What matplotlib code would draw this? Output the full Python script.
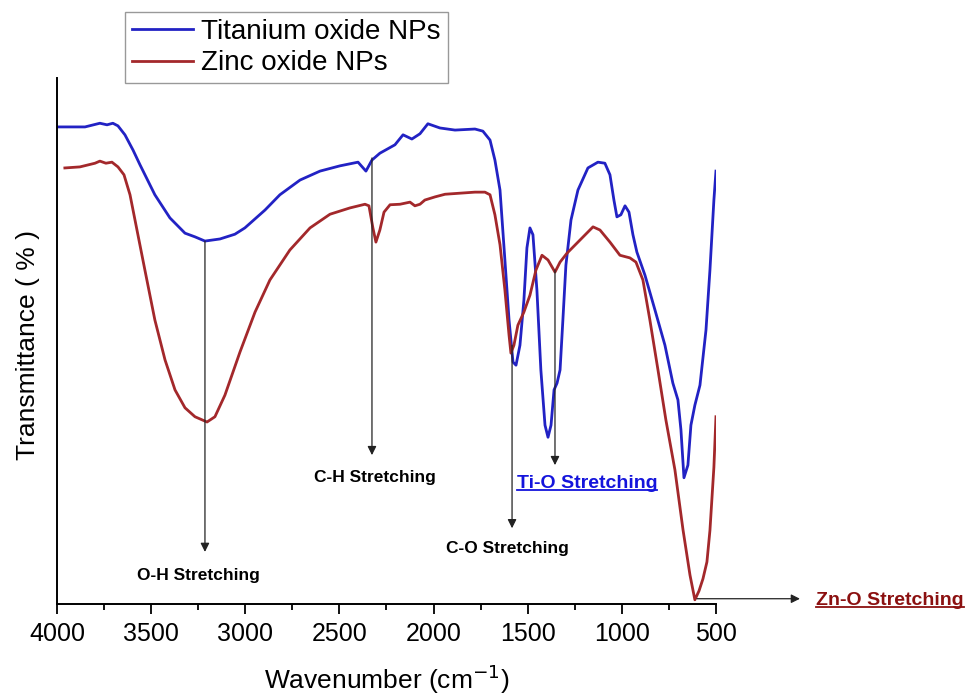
import matplotlib
matplotlib.use("Agg")
import matplotlib.pyplot as plt
from matplotlib.lines import Line2D

plt.rcParams['font.family'] = ['Liberation Sans', 'DejaVu Sans']

# Titanium oxide NPs (wavenumber, transmittance %)
ti_wn = [4000, 3851, 3772, 3734, 3703, 3676, 3639, 3596, 3559, 3480, 3400, 3320, 3267, 3214,
         3134, 3055, 3002, 2895, 2816, 2709, 2603, 2497, 2401, 2359, 2327, 2285, 2205, 2162,
         2115, 2072, 2030, 1966, 1886, 1780, 1738, 1700, 1674, 1647, 1621, 1599, 1578, 1562,
         1541, 1520, 1504, 1488, 1472, 1451, 1430, 1408, 1392, 1376, 1360, 1344, 1328, 1313,
         1297, 1270, 1233, 1180, 1127, 1090, 1063, 1042, 1026, 1005, 983, 962, 941, 920, 877,
         824, 771, 729, 702, 686, 670, 649, 633, 612, 585, 553, 532, 511, 500]
ti_t = [90.7, 90.7, 91.4, 91.1, 91.4, 90.9, 89.2, 86.3, 83.5, 77.8, 73.4, 70.5, 69.8, 69.0,
        69.4, 70.3, 71.5, 74.9, 77.8, 80.6, 82.3, 83.3, 84.0, 82.3, 84.4, 85.7, 87.3, 89.2,
        88.4, 89.4, 91.3, 90.5, 90.1, 90.3, 89.9, 88.2, 84.4, 78.7, 65.4, 54.0, 46.0, 45.4,
        49.2, 57.8, 67.7, 71.5, 70.2, 59.7, 44.5, 34.0, 31.7, 34.0, 40.7, 42.0, 44.5, 54.0,
        64.4, 73.0, 78.7, 82.9, 84.0, 83.8, 81.6, 76.8, 73.6, 74.0, 75.7, 74.5, 70.2, 66.9, 62.5,
        55.9, 49.2, 42.0, 38.8, 33.1, 24.0, 26.4, 34.0, 37.8, 41.6, 52.1, 63.5, 76.8, 82.3]

# Zinc oxide NPs
zn_wn = [3958, 3878, 3798, 3772, 3740, 3708, 3676, 3644, 3612, 3575, 3533, 3480, 3426, 3373,
         3320, 3267, 3203, 3161, 3108, 3028, 2948, 2869, 2763, 2656, 2550, 2444, 2364, 2343,
         2322, 2306, 2285, 2263, 2231, 2178, 2125, 2099, 2072, 2046, 1992, 1939, 1860, 1780,
         1727, 1700, 1674, 1647, 1621, 1599, 1589, 1573, 1552, 1520, 1488, 1456, 1424, 1392,
         1355, 1328, 1291, 1222, 1153, 1116, 1063, 1010, 957, 925, 888, 851, 808, 766, 718,
         675, 638, 612, 590, 569, 548, 532, 511, 500]
zn_t = [82.9, 83.1, 83.8, 84.2, 83.8, 84.0, 83.1, 81.6, 77.8, 71.1, 63.5, 54.0, 46.4, 40.7,
        37.3, 35.6, 34.6, 35.6, 39.7, 47.9, 55.5, 61.6, 67.3, 71.5, 74.1, 75.3, 76.0, 75.7,
        71.5, 68.8, 71.1, 74.5, 75.9, 76.0, 76.4, 75.7, 76.0, 76.8, 77.4, 77.9, 78.1, 78.3,
        78.3, 77.8, 74.0, 68.3, 59.7, 51.1, 47.7, 49.2, 53.0, 55.5, 58.7, 63.5, 66.3, 65.4,
        63.1, 65.0, 66.7, 69.2, 71.7, 71.1, 68.8, 66.3, 65.8, 65.0, 61.6, 54.0, 44.5, 35.0, 25.5,
        14.1, 5.5, 0.8, 2.5, 4.8, 8.0, 14.0, 26.0, 35.6]

x_ticks = [4000, 3500, 3000, 2500, 2000, 1500, 1000, 500]

fig = plt.figure(figsize=(9.67, 6.94), dpi=100)
ax = fig.add_axes([0.0589, 0.1297, 0.6815, 0.7579])

ti_line, = ax.plot(ti_wn, ti_t, color='#2222c4', lw=2, solid_joinstyle='round')
zn_line, = ax.plot(zn_wn, zn_t, color='#a3282b', lw=2, solid_joinstyle='round')

ax.set_xlim(4000, 500)
ax.set_ylim(0, 100)
ax.set_xticks(x_ticks)
ax.set_xticks(range(3750, 500, -500), minor=True)
ax.set_yticks([])
ax.tick_params(axis='x', which='major', direction='out', length=7, width=1.3,
               labelsize=18, pad=6)
ax.tick_params(axis='x', which='minor', direction='out', length=4, width=1.3)
for s in ['top', 'right']:
    ax.spines[s].set_visible(False)
for s in ['left', 'bottom']:
    ax.spines[s].set_linewidth(1.4)

fig.text(28 / 967, 1 - 345 / 694, 'Transmittance ( % )', rotation=90,
         ha='center', va='center', fontsize=19)
fig.text(387 / 967, 1 - 679 / 694, 'Wavenumber (cm$^{-1}$)',
         ha='center', va='center', fontsize=19)

fig.legend([ti_line, zn_line], ['Titanium oxide NPs', 'Zinc oxide NPs'],
           loc='upper left', bbox_to_anchor=(125 / 967, 1 - 12 / 694), fontsize=20,
           fancybox=False, edgecolor='#999999', framealpha=1, borderpad=0.25,
           labelspacing=0.2, handlelength=2.2, handletextpad=0.3, borderaxespad=0)

arrow = dict(arrowstyle='-|>', color='#222222', lw=0.9, mutation_scale=13,
             shrinkA=0, shrinkB=0)

# peak labels
ax.annotate('', xy=(3214, 9.9), xytext=(3214, 69.0), arrowprops=arrow)
ax.text(3251, 5.5, 'O-H Stretching', ha='center', va='center', fontsize=12.5, fontweight='bold')

ax.annotate('', xy=(2327, 28.3), xytext=(2327, 84.8), arrowprops=arrow)
ax.text(2311, 24.1, 'C-H Stretching', ha='center', va='center', fontsize=12.5, fontweight='bold')

ax.annotate('', xy=(1583, 14.4), xytext=(1583, 49.2), arrowprops=arrow)
ax.text(1605, 10.6, 'C-O Stretching', ha='center', va='center', fontsize=12.5, fontweight='bold')

ax.annotate('', xy=(1355, 26.4), xytext=(1355, 63.5), arrowprops=arrow)
ti_txt = ax.text(1185, 23.0, 'Ti-O Stretching', ha='center', va='center', fontsize=14,
                 fontweight='bold', color='#1414dc')

ax.annotate('', xy=(54, 1.0), xytext=(601, 1.0), arrowprops=arrow, annotation_clip=False)
zn_txt = ax.text(1.152, 0.006, 'Zn-O Stretching', transform=ax.transAxes, ha='left',
                 va='center', fontsize=14, fontweight='bold', color='#8b1010', clip_on=False)

# underline the coloured labels
fig.canvas.draw()
inv = fig.transFigure.inverted()
for t in [ti_txt, zn_txt]:
    bb = t.get_window_extent()
    (x0, y0), (x1, y1) = inv.transform([(bb.x0, bb.y0 + 2), (bb.x1, bb.y0 + 2)])
    fig.add_artist(Line2D([x0, x1], [y0, y1], color=t.get_color(), lw=1.3))

fig.savefig('out.png', dpi=100)
